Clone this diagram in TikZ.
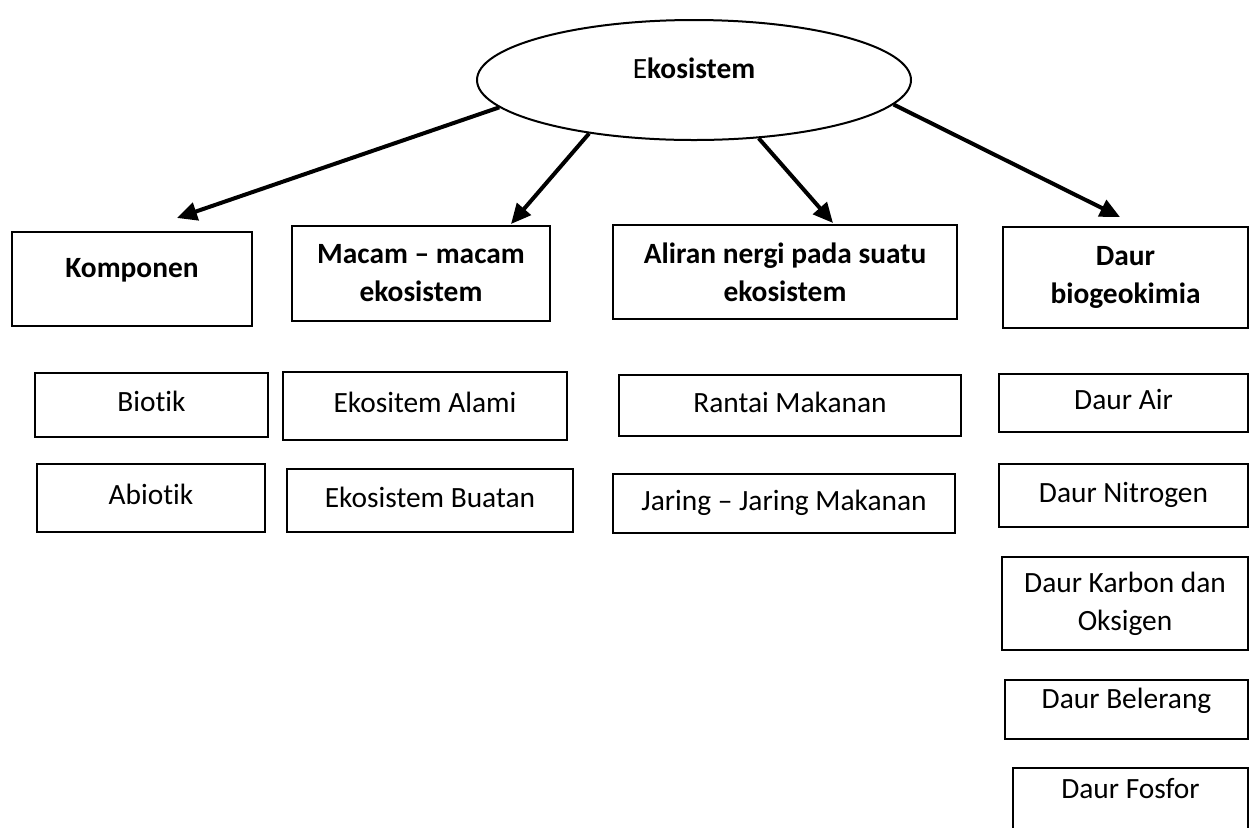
\documentclass[tikz,border=0pt]{standalone}
\usepackage{fontspec}
\setmainfont{Carlito}[Ligatures=NoCommon]
\usetikzlibrary{arrows.meta,shapes.geometric}

\tikzset{
  kotak/.style={draw,line width=1.2pt,inner sep=0pt,align=center},
  isi/.style={kotak,text height=10pt,text depth=3.5pt},
  atas/.style={kotak,text height=10pt,text depth=11.5pt},
  judul/.style={kotak,font=\fontsize{14.7pt}{19pt}\selectfont\bfseries},
  panah/.style={line width=2pt,-{Triangle[length=10pt,width=9pt]}}
}

\begin{document}
\begin{tikzpicture}[x=0.5pt,y=-0.5pt,font=\fontsize{14.7pt}{19pt}\selectfont]
\useasboundingbox (0,0) rectangle (1249,827);
\clip (0,0) rectangle (1249,827);

% pusat
\node[ellipse,draw,line width=1pt,inner sep=0pt,minimum width=217pt,minimum height=60pt,
      text height=10pt,text depth=11.8pt] (eko) at (694,80) {E\textbf{kosistem}};

% baris judul
\node[atas,font=\fontsize{14.7pt}{19pt}\selectfont\bfseries,minimum width=120pt,minimum height=47pt] (komponen) at (132,279) {Komponen};
\node[judul,minimum width=129pt,minimum height=47.5pt] (macam) at (421,273.5) {Macam – macam\\ekosistem};
\node[judul,minimum width=172pt,minimum height=47pt] (aliran) at (785,272) {Aliran nergi pada suatu\\ekosistem};
\node[judul,minimum width=122.5pt,minimum height=50.5pt] (daur) at (1125.5,277.5) {Daur\\biogeokimia};

% isi
\node[isi,minimum width=116.5pt,minimum height=32pt] (biotik) at (151.5,405) {Biotik};
\node[isi,minimum width=114pt,minimum height=34pt] (abiotik) at (151,498) {Abiotik};
\node[isi,minimum width=142pt,minimum height=34pt] (alami) at (425,406) {Ekositem Alami};
\node[isi,minimum width=143pt,minimum height=31.5pt] (buatan) at (430,500.5) {Ekosistem Buatan};
\node[isi,minimum width=171pt,minimum height=30.5pt] (rantai) at (790,405.5) {Rantai Makanan};
\node[isi,minimum width=171pt,minimum height=29.5pt] (jaring) at (784,503.5) {Jaring – Jaring Makanan};
\node[isi,minimum width=124.5pt,minimum height=29pt] (air) at (1123.5,403) {Daur Air};
\node[isi,minimum width=124.5pt,minimum height=31.5pt] (nitrogen) at (1123.5,495.5) {Daur Nitrogen};
\node[kotak,minimum width=123pt,minimum height=46.5pt] (karbon) at (1125,603.5) {Daur Karbon dan\\Oksigen};
\node[atas,minimum width=121.5pt,minimum height=29.5pt] (belerang) at (1126.5,709.5) {Daur Belerang};
\node[atas,minimum width=117.5pt,minimum height=32pt] (fosfor) at (1130.5,800) {Daur Fosfor};

% panah
\coordinate (ujungA) at (177,218);
\coordinate (ujungB) at (511,224);
\coordinate (ujungC) at (833,223);
\coordinate (ujungD) at (1120,217);
\draw[panah] (eko.188.5) -- (ujungA);
\draw[panah] (eko.207) -- (ujungB);
\draw[panah] (eko.318) -- (ujungC);
\draw[panah] (eko.353.5) -- (ujungD);
\end{tikzpicture}
\end{document}
